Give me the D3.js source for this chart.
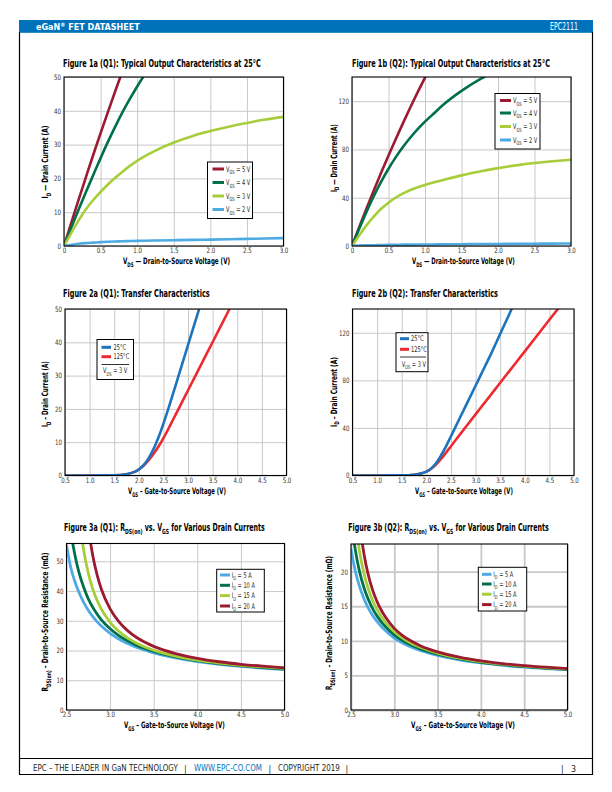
<!DOCTYPE html>
<html><head><meta charset="utf-8">
<script src="https://cdn.jsdelivr.net/npm/d3@7"></script>
<style>html,body{margin:0;padding:0;background:#fff}svg{display:block}</style>
</head><body>
<script>
// ---------------- DATA ----------------
// Figure 1a / 1b : output characteristics (x = VDS in V, y = ID in A)
const vdsPts = [0,0.1,0.2,0.3,0.4,0.5,0.6,0.7,0.8,0.9,1.0,1.1,1.25,1.5,1.75,2.0,2.25,2.5,2.75,3.0];
const q1Vgs5 = [0,6.9,13.7,20.4,27,33.4,39.6,45.8,51.8,57.6,63.3,69,77,90,102,113,123,132,140,148];
const q1Vgs4 = [0,5.5,10.8,16,21,26,30.8,35.3,39.6,43.5,47.2,50.6,55,62,68,73,77,80,82,84];
const q1Vgs3 = [0,3.9,7.6,10.9,13.6,16.0,18.2,20.2,22.0,23.7,25.2,26.5,28.2,30.6,32.5,34.0,35.3,36.4,37.4,38.2];
const q1Vgs2 = [0,0.35,0.65,0.85,1.0,1.15,1.25,1.33,1.4,1.46,1.52,1.57,1.63,1.72,1.8,1.9,2.0,2.1,2.2,2.35];
const q2Vgs5 = [0,15.8,31.2,46.2,60.8,75,88.7,102,115,127.5,139.5,151,168,195,220,243,264,283,300,316];
const q2Vgs4 = [0,14.5,28.5,41.5,53.3,64,73.6,82.2,89.9,96.8,103,108.6,117,128.5,138,146,152,157,161,164];
const q2Vgs3 = [0,9,17.3,24.6,30.8,35.9,40.2,43.6,46.4,48.7,50.6,52.3,54.7,58.5,61.7,64.5,66.8,68.7,70.2,71.5];
const q2Vgs2 = [0,0.3,0.5,0.65,0.8,0.9,1.0,1.1,1.15,1.2,1.25,1.3,1.4,1.5,1.6,1.7,1.8,1.9,2.0,2.1];
const outVgsLabels = ["5 V","4 V","3 V","2 V"];
const outXTicks = [0,0.5,1.0,1.5,2.0,2.5,3.0];
const q1OutYTicks = [0,10,20,30,40,50];
const q2OutYTicks = [0,40,80,120];

// Figure 2a / 2b : transfer characteristics (x = VGS in V, y = ID in A), VDS = 3 V
const vgsT = [0.5,1.0,1.5,1.75,1.9,2.0,2.1,2.2,2.3,2.4,2.5,2.6,2.7,2.8,2.9,3.0,3.1,3.2,3.3,3.4,3.6,3.8,4.0,4.2,4.5,5.0];
const q1T25  = [0,0,0.05,0.4,1.0,1.8,3.2,5.2,8.0,11.5,15.6,20.1,24.8,29.6,34.4,39.2,44.0,48.8,53.6,58.4,68,77.6,87,96.5,111,135];
const q1T125 = [0,0,0.05,0.4,1.0,1.8,3.0,4.6,6.5,8.7,11.2,14.0,16.9,19.8,22.7,25.6,28.5,31.4,34.3,37.2,43,48.8,54.6,60.4,69,83.5];
const q2T25  = [0,0,0.1,0.6,1.8,3.2,6,10.5,17,24.5,33,41.5,50,58.5,67,75.5,84,92.5,101,110,128,146,164,182,209,254];
const q2T125 = [0,0,0.1,0.6,1.8,3.2,5.7,9.3,14,19.2,24.6,30.0,35.4,40.8,46.1,51.4,56.7,62.0,67.3,72.6,83.2,93.8,104.4,115,130.9,157.4];
const tempLabels = ["25°C","125°C"];
const transXTicks = [0.5,1.0,1.5,2.0,2.5,3.0,3.5,4.0,4.5,5.0];
const q1TransYTicks = [0,10,20,30,40,50];
const q2TransYTicks = [0,40,80,120];

// Figure 3a / 3b : RDS(on) vs VGS (x = VGS in V, y = mOhm)
const vgsR = [2.5,2.55,2.6,2.65,2.7,2.75,2.8,2.85,2.9,3.0,3.1,3.2,3.3,3.4,3.5,3.75,4.0,4.25,4.5,4.75,5.0];
const q1R5  = [55.5,47.75,42.87,39.08,36.04,33.56,31.49,29.74,28.23,25.8,23.9,22.38,21.14,20.1,19.23,17.53,16.31,15.38,14.66,14.08,13.6];
const q1R10 = [72.9,60.1,51.6,45.5,41.0,37.4,34.6,32.3,30.3,27.3,25.0,23.25,21.83,20.67,19.7,17.87,16.58,15.61,14.87,14.28,13.8];
const q1R15 = [227,118.4,82.2,64.1,53.2,46.0,40.8,36.9,33.9,29.5,26.46,24.23,22.53,21.18,20.09,18.1,16.75,15.78,15.04,14.47,14.0];
const q1R20 = [null,null,173.7,105.3,77.1,61.8,52.1,45.5,40.6,34.0,29.7,26.7,24.47,22.76,21.4,18.97,17.37,16.23,15.38,14.73,14.2];
const q2R5  = [23.29,20.08,17.79,16.08,14.74,13.67,12.8,12.07,11.45,10.4,9.66,9.08,8.62,8.23,7.9,7.26,6.8,6.46,6.19,5.97,5.8];
const q2R10 = [27.86,23.11,19.94,17.68,15.99,14.67,13.61,12.75,12.03,10.85,10.0,9.36,8.84,8.42,8.07,7.39,6.9,6.55,6.27,6.05,5.87];
const q2R15 = [35.25,27.48,22.82,19.71,17.49,15.83,14.54,13.5,12.65,11.3,10.35,9.63,9.07,8.61,8.23,7.51,7.0,6.63,6.35,6.12,5.94];
const q2R20 = [50.04,34.77,27.1,22.56,19.5,17.33,15.69,14.42,13.4,11.8,10.72,9.93,9.3,8.8,8.4,7.63,7.1,6.72,6.42,6.19,6.0];
const idLabels = ["5 A","10 A","15 A","20 A"];
const rdsXTicks = [2.5,3.0,3.5,4.0,4.5,5.0];
const q1RdsYTicks = [0,10,20,30,40,50];
const q2RdsYTicks = [0,5,10,15,20];

// ---------------- STYLE / LAYOUT ----------------
const FONT = "'Liberation Sans Narrow','DejaVu Sans Condensed','Roboto Condensed','Arial Narrow','Liberation Sans',sans-serif";
const BLUE_HDR = "#0072bc";
const C_MAROON = "#9b1b30", C_GREEN = "#00704a", C_LIME = "#a7cd3a", C_SKY = "#4eaae2";
const C_T25 = "#1c75bc", C_T125 = "#ed2a2f";
const GRID = "#c8c8c8";
const NARROW = 0.72;

const svg = d3.select("body").append("svg").attr("width",612).attr("height",792)
  .style("font-family", FONT);

function rich(sel, parts, fs){
  let sh = 0;
  parts.forEach(p=>{
    const ts = sel.append("tspan").text(p[0]);
    if (p[1]) { ts.attr("font-size", fs*0.72).attr("dy", fs*0.3 - sh); sh = fs*0.3; }
    else if (sh) { ts.attr("dy", -sh); sh = 0; }
  });
  return sel;
}
function fitX(sel, x0, w){
  const nat = sel.node().getComputedTextLength();
  const s = w / nat;
  sel.attr("transform", `translate(${x0},0) scale(${s},1) translate(${-x0},0)`);
}
function narrow(sel, x0, s){
  sel.attr("transform", `translate(${x0},0) scale(${s},1) translate(${-x0},0)`);
}

// Page frame, header and footer
svg.append("rect").attr("x",19).attr("y",20).attr("width",574).attr("height",12.8).attr("fill",BLUE_HDR);
const hdr = svg.append("text").attr("x",36).attr("y",30).attr("fill","#fff").attr("font-size",9.6).attr("font-weight","bold");
hdr.append("tspan").text("eGaN");
hdr.append("tspan").attr("font-size",6).attr("dy",-3).text("®");
hdr.append("tspan").attr("dy",3).text(" FET DATASHEET");
fitX(hdr, 36, 104);
fitX(svg.append("text").attr("x",550).attr("y",30).attr("fill","#fff").attr("font-size",9.6)
  .text("EPC2111"), 550, 28);
const frame = svg.append("g").attr("stroke","#000").attr("stroke-width",1.2).attr("fill","none");
frame.append("path").attr("d","M19.5,32 V774.5 H592.5 V32");
frame.append("path").attr("d","M19.5,758.5 H592.5");
const foot = svg.append("g").attr("font-size",8.8).attr("fill","#231f20");
[[33,145,"EPC – THE LEADER IN GaN TECHNOLOGY",null],[184,null,"|",null],[194,68,"WWW.EPC-CO.COM",BLUE_HDR],
 [268.5,null,"|",null],[278,62,"COPYRIGHT 2019",null],[345.5,null,"|",null],[561,null,"|",null],[571,null,"3",null]]
 .forEach(d=>{
   const t = foot.append("text").attr("x",d[0]).attr("y",771.5).text(d[2]);
   if (d[3]) t.attr("fill",d[3]);
   if (d[1]) fitX(t, d[0], d[1]);
 });

// Chart configs
const f1 = d => d===0 ? "0" : d.toFixed(1);
const f2 = d => d.toFixed(1);
const fi = d => String(d);
const sub = (a,b,c)=>[[a],[b,1],[c]];

const charts = [
 {plot:[64,77,283.5,246], xd:[0,3], yd:[0,50], xt:outXTicks, yt:q1OutYTicks, xf:f1,
  series:[[vdsPts,q1Vgs5,C_MAROON],[vdsPts,q1Vgs4,C_GREEN],[vdsPts,q1Vgs3,C_LIME],[vdsPts,q1Vgs2,C_SKY]], lw:2.6,
  title:{x:63,y:67,w:198,parts:[["Figure 1a (Q1): Typical Output Characteristics at 25°C"]]},
  xlab:{cx:176.5,y:264,w:107,parts:sub("V","DS"," — Drain-to-Source Voltage (V)")},
  ylab:{x:48,cy:162,w:73,parts:sub("I","D"," — Drain Current (A)")},
  legend:{type:"vgs",box:[207.5,162,45,56.5],sw:[212.5,224],tx:226,rows:[169,182.5,196,209.5],labels:outVgsLabels,
          colors:[C_MAROON,C_GREEN,C_LIME,C_SKY]}},
 {plot:[352,77,571,246], xd:[0,3], yd:[0,140], xt:outXTicks, yt:q2OutYTicks, xf:f1,
  series:[[vdsPts,q2Vgs5,C_MAROON],[vdsPts,q2Vgs4,C_GREEN],[vdsPts,q2Vgs3,C_LIME],[vdsPts,q2Vgs2,C_SKY]], lw:2.6,
  title:{x:352,y:67,w:198,parts:[["Figure 1b (Q2): Typical Output Characteristics at 25°C"]]},
  xlab:{cx:463.5,y:264,w:103,parts:sub("V","DS"," — Drain-to-Source Voltage (V)")},
  ylab:{x:336.5,cy:158,w:68,parts:sub("I","D"," — Drain Current (A)")},
  legend:{type:"vgs",box:[495,93.5,45,55.5],sw:[500,511],tx:513,rows:[100.5,113,126.5,140],labels:outVgsLabels,
          colors:[C_MAROON,C_GREEN,C_LIME,C_SKY]}},
 {plot:[65,309,286.5,475.5], xd:[0.5,5], yd:[0,50], xt:transXTicks, yt:q1TransYTicks, xf:f2,
  series:[[vgsT,q1T125,C_T125],[vgsT,q1T25,C_T25]], lw:2.6,
  title:{x:63,y:297.5,w:147,parts:[["Figure 2a (Q1): Transfer Characteristics"]]},
  xlab:{cx:177,y:494.5,w:98,parts:sub("V","GS"," – Gate-to-Source Voltage (V)")},
  ylab:{x:48,cy:394,w:66,parts:sub("I","D"," – Drain Current (A)")},
  legend:{type:"temp",box:[97,339.5,36.5,40],sw:[101.5,111],tx:113.5,rows:[347.3,356.7],sep:[364.5,101.5,129],vrow:371.8,vx:103,
          labels:tempLabels,colors:[C_T25,C_T125]}},
 {plot:[352.5,309,574,475.5], xd:[0.5,5], yd:[0,140], xt:transXTicks, yt:q2TransYTicks, xf:f2,
  series:[[vgsT,q2T125,C_T125],[vgsT,q2T25,C_T25]], lw:2.6,
  title:{x:352,y:297.5,w:146,parts:[["Figure 2b (Q2): Transfer Characteristics"]]},
  xlab:{cx:464,y:494.5,w:98,parts:sub("V","GS"," – Gate-to-Source Voltage (V)")},
  ylab:{x:336.5,cy:392,w:70,parts:sub("I","D"," – Drain Current (A)")},
  legend:{type:"temp",box:[396,332.7,32,39],sw:[400,409],tx:411,rows:[338.7,349.3],sep:[357,400,426],vrow:365.3,vx:401.7,
          labels:tempLabels,colors:[C_T25,C_T125]}},
 {plot:[66.5,543.5,284.5,710], xd:[2.5,5], yd:[0,56], xt:rdsXTicks, yt:q1RdsYTicks, xf:f2,
  series:[[vgsR,q1R5,C_SKY],[vgsR,q1R10,C_GREEN],[vgsR,q1R15,C_LIME],[vgsR,q1R20,C_MAROON]], lw:2.8,
  title:{x:64,y:530.7,w:201,parts:[["Figure 3a (Q1): R"],["DS(on)",1],[" vs. V"],["GS",1],[" for Various Drain Currents"]]},
  xlab:{cx:174.5,y:728.5,w:101,parts:sub("V","GS"," – Gate-to-Source Voltage (V)")},
  ylab:{x:48,cy:622,w:139,parts:sub("R","DS(on)"," – Drain-to-Source Resistance (mΩ)")},
  legend:{type:"id",box:[216.7,569.3,47.6,42.7],sw:[220,230],tx:231.7,rows:[575,585.3,595.6,606],labels:idLabels,
          colors:[C_SKY,C_GREEN,C_LIME,C_MAROON]}},
 {plot:[351,544,567.5,710], xd:[2.5,5], yd:[0,24], xt:rdsXTicks, yt:q2RdsYTicks, xf:f2, gridW:1.8,
  series:[[vgsR,q2R5,C_SKY],[vgsR,q2R10,C_GREEN],[vgsR,q2R15,C_LIME],[vgsR,q2R20,C_MAROON]], lw:2.8,
  title:{x:348.3,y:530.7,w:200.7,parts:[["Figure 3b (Q2): R"],["DS(on)",1],[" vs. V"],["GS",1],[" for Various Drain Currents"]]},
  xlab:{cx:463,y:728.5,w:104,parts:sub("V","GS"," – Gate-to-Source Voltage (V)")},
  ylab:{x:332,cy:623,w:134,parts:sub("R","DS(on)"," – Drain-to-Source Resistance (mΩ)")},
  legend:{type:"id",box:[478.3,567.3,48.4,43.7],sw:[482,491.5],tx:493.3,rows:[574.3,584,594.2,604.6],labels:idLabels,
          colors:[C_SKY,C_GREEN,C_LIME,C_MAROON]}}
];

charts.forEach((c,i)=>{
  const [x0,y0,x1,y1] = c.plot;
  const x = d3.scaleLinear().domain(c.xd).range([x0,x1]);
  const y = d3.scaleLinear().domain(c.yd).range([y1,y0]);
  const g = svg.append("g");
  const gw = c.gridW || 1;

  // grid
  const gx = g.append("g").attr("transform",`translate(0,${y1})`)
    .call(d3.axisBottom(x).tickValues(c.xt).tickSize(-(y1-y0)).tickFormat(""));
  gx.select(".domain").remove();
  gx.selectAll("line").attr("stroke",GRID).attr("stroke-width",gw);
  const gy = g.append("g").attr("transform",`translate(${x0},0)`)
    .call(d3.axisLeft(y).tickValues(c.yt).tickSize(-(x1-x0)).tickFormat(""));
  gy.select(".domain").remove();
  gy.selectAll("line").attr("stroke",GRID).attr("stroke-width",gw);

  // tick labels
  const ax = g.append("g").attr("transform",`translate(0,${y1})`)
    .call(d3.axisBottom(x).tickValues(c.xt).tickSize(0).tickPadding(2.2).tickFormat(c.xf));
  ax.select(".domain").remove();
  ax.selectAll("text").attr("font-size",7.4).attr("fill","#333").style("font-family",FONT).attr("transform","scale(0.82,1)");
  const ay = g.append("g").attr("transform",`translate(${x0},0)`)
    .call(d3.axisLeft(y).tickValues(c.yt).tickSize(0).tickPadding(3).tickFormat(fi));
  ay.select(".domain").remove();
  ay.selectAll("text").attr("font-size",7.4).attr("fill","#333").style("font-family",FONT)
    .attr("transform","translate(-3,0) scale(0.82,1) translate(3,0)");

  // curves
  const cid = "clip"+i;
  svg.append("clipPath").attr("id",cid).append("rect").attr("x",x0).attr("y",y0).attr("width",x1-x0).attr("height",y1-y0);
  const line = d3.line().x(d=>x(d[0])).y(d=>y(d[1])).curve(d3.curveMonotoneX);
  const cg = g.append("g").attr("clip-path",`url(#${cid})`);
  c.series.forEach(s=>{
    const pts = s[0].map((v,k)=>[v,s[1][k]]).filter(d=>d[1]!=null);
    cg.append("path").attr("d",line(pts)).attr("fill","none").attr("stroke",s[2])
      .attr("stroke-width",c.lw).attr("stroke-linejoin","round");
  });

  // plot border
  g.append("rect").attr("x",x0).attr("y",y0).attr("width",x1-x0).attr("height",y1-y0)
    .attr("fill","none").attr("stroke","#000").attr("stroke-width",1.1);

  // title
  const t = g.append("text").attr("x",c.title.x).attr("y",c.title.y).attr("font-size",9.8).attr("font-weight","bold")
    .attr("fill","#000");
  rich(t,c.title.parts,9.8);
  fitX(t, c.title.x, c.title.w);
  // x label
  const xs = c.xlab.cx - c.xlab.w/2;
  const xl = g.append("text").attr("x",xs).attr("y",c.xlab.y).attr("font-size",8.8).attr("font-weight","bold")
    .attr("fill","#000");
  rich(xl,c.xlab.parts,8.8);
  fitX(xl, xs, c.xlab.w);
  // y label
  const yl = g.append("text").attr("x",0).attr("y",0).attr("font-size",8.8).attr("font-weight","bold").attr("fill","#000");
  rich(yl,c.ylab.parts,8.8);
  const ys = c.ylab.w / yl.node().getComputedTextLength();
  yl.attr("transform",`translate(${c.ylab.x},${c.ylab.cy + c.ylab.w/2}) rotate(-90) scale(${ys},1)`);

  // legend
  const L = c.legend;
  const lg = g.append("g");
  lg.append("rect").attr("x",L.box[0]).attr("y",L.box[1]).attr("width",L.box[2]).attr("height",L.box[3])
    .attr("fill","#fff").attr("stroke","#000").attr("stroke-width",1);
  const lfs = 7.8;
  L.labels.forEach((lab,k)=>{
    const ry = L.rows[k];
    lg.append("line").attr("x1",L.sw[0]).attr("x2",L.sw[1]).attr("y1",ry).attr("y2",ry)
      .attr("stroke",L.colors[k]).attr("stroke-width",3);
    const tt = lg.append("text").attr("x",L.tx).attr("y",ry+lfs*0.35).attr("font-size",lfs).attr("fill","#231f20");
    if (L.type==="vgs") rich(tt,[["V"],["GS",1],[" = "+lab]],lfs);
    else if (L.type==="id") rich(tt,[["I"],["D",1],[" = "+lab]],lfs);
    else tt.text(lab);
    narrow(tt, L.tx, NARROW);
  });
  if (L.type==="temp") {
    lg.append("line").attr("x1",L.sep[1]).attr("x2",L.sep[2]).attr("y1",L.sep[0]).attr("y2",L.sep[0])
      .attr("stroke","#000").attr("stroke-width",0.8);
    const vt = lg.append("text").attr("x",L.vx).attr("y",L.vrow+lfs*0.2).attr("font-size",lfs).attr("fill","#231f20");
    rich(vt,[["V"],["DS",1],[" = 3 V"]],lfs);
    narrow(vt, L.vx, NARROW);
  }
});
</script>
</body></html>
